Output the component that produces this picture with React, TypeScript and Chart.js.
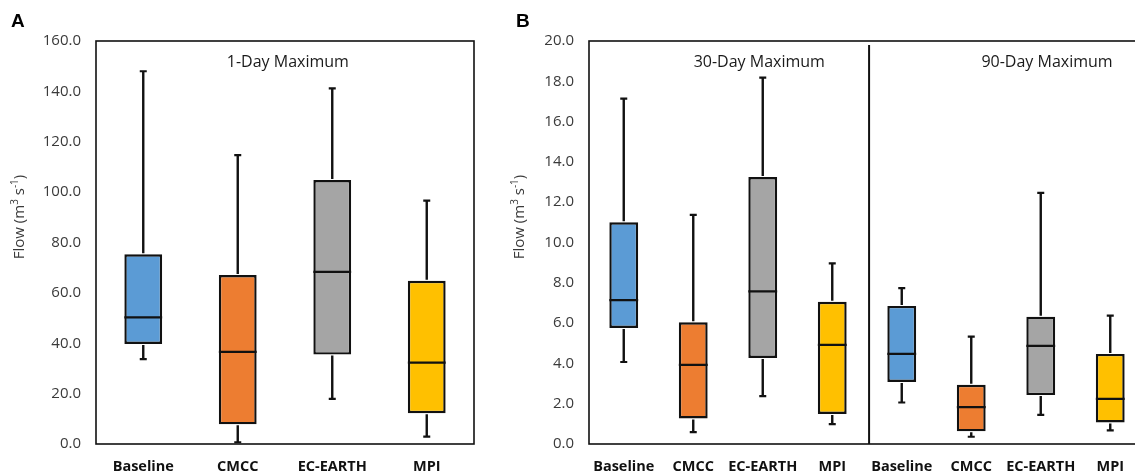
import React, { useEffect, useRef } from 'react';
import { Chart, registerables } from 'chart.js';
Chart.register(...registerables);

// ---------- data ----------
const categories = ['Baseline', 'CMCC', 'EC-EARTH', 'MPI'];
const boxColors = ['#5B9BD5', '#ED7D31', '#A5A5A5', '#FFC000'];

// Panel A: 1-Day Maximum
const day1Min = [33.7, 0.7, 17.9, 2.9];
const day1Q1 = [39.7, 7.8, 35.5, 12.2];
const day1Median = [50.3, 36.6, 68.3, 32.3];
const day1Q3 = [75.3, 67.1, 104.8, 64.8];
const day1Max = [148.0, 114.7, 141.2, 96.6];

// Panel B: 30-Day Maximum
const day30Min = [4.07, 0.59, 2.38, 0.99];
const day30Q1 = [5.76, 1.27, 4.27, 1.49];
const day30Median = [7.14, 3.93, 7.57, 4.92];
const day30Q3 = [11.0, 6.04, 13.25, 7.06];
const day30Max = [17.14, 11.37, 18.18, 8.96];

// Panel B: 90-Day Maximum
const day90Min = [2.06, 0.36, 1.45, 0.68];
const day90Q1 = [3.08, 0.63, 2.43, 1.07];
const day90Median = [4.47, 1.83, 4.87, 2.24];
const day90Q3 = [6.85, 2.94, 6.32, 4.47];
const day90Max = [7.74, 5.33, 12.46, 6.37];

const yTicksA = { min: 0, max: 160, step: 20 };
const yTicksB = { min: 0, max: 20, step: 2 };

const FONT = "'Open Sans', 'DejaVu Sans', sans-serif";
const TEXT = '#3a3a3a';
const LINE = '#111111';

type Stats = { min: number[]; q1: number[]; med: number[]; q3: number[]; max: number[] };

function drawYTitle(ctx: CanvasRenderingContext2D, x: number, y: number) {
  ctx.save();
  ctx.translate(x, y);
  ctx.rotate(-Math.PI / 2);
  ctx.fillStyle = TEXT;
  ctx.textBaseline = 'middle';
  const segs: [string, boolean][] = [
    ['Flow (m', false],
    ['3', true],
    [' s', false],
    ['-1', true],
    [')', false],
  ];
  const big = `15px ${FONT}`;
  const small = `10px ${FONT}`;
  let total = 0;
  for (const [t, sup] of segs) {
    ctx.font = sup ? small : big;
    total += ctx.measureText(t).width;
  }
  let cx = -total / 2;
  ctx.textAlign = 'left';
  for (const [t, sup] of segs) {
    ctx.font = sup ? small : big;
    ctx.fillText(t, cx, sup ? -5 : 0);
    cx += ctx.measureText(t).width;
  }
  ctx.restore();
}

function boxPlugin(
  stats: Stats,
  panelTitles: { text: string; at: number }[],
  letter: string,
  divider: boolean
) {
  return {
    id: 'boxExtras',
    afterDatasetsDraw(chart: any) {
      const ctx: CanvasRenderingContext2D = chart.ctx;
      const xs = chart.scales.x;
      const ys = chart.scales.y;
      const meta = chart.getDatasetMeta(0);
      ctx.save();
      ctx.strokeStyle = LINE;
      ctx.lineCap = 'butt';
      stats.med.forEach((_, i) => {
        const x = xs.getPixelForValue(i);
        const w = meta.data[i].width;
        const yMin = ys.getPixelForValue(stats.min[i]);
        const yQ1 = ys.getPixelForValue(stats.q1[i]);
        const yMed = ys.getPixelForValue(stats.med[i]);
        const yQ3 = ys.getPixelForValue(stats.q3[i]);
        const yMax = ys.getPixelForValue(stats.max[i]);
        ctx.lineWidth = 2.4;
        ctx.beginPath();
        ctx.moveTo(x, yQ3 - 1);
        ctx.lineTo(x, yMax);
        ctx.moveTo(x, yQ1 + 1);
        ctx.lineTo(x, yMin);
        ctx.stroke();
        ctx.lineWidth = 2.2;
        ctx.beginPath();
        ctx.moveTo(x - 3.5, yMax);
        ctx.lineTo(x + 3.5, yMax);
        ctx.moveTo(x - 3.5, yMin);
        ctx.lineTo(x + 3.5, yMin);
        ctx.moveTo(x - w / 2, yMed);
        ctx.lineTo(x + w / 2, yMed);
        ctx.stroke();
      });
      ctx.restore();
    },
    afterDraw(chart: any) {
      const ctx: CanvasRenderingContext2D = chart.ctx;
      const a = chart.chartArea;
      const xs = chart.scales.x;
      ctx.save();
      ctx.strokeStyle = LINE;
      ctx.lineWidth = 1.6;
      ctx.strokeRect(a.left, a.top, a.right - a.left, a.bottom - a.top);
      if (divider) {
        const dx = xs.getPixelForValue(3.53);
        ctx.lineWidth = 2;
        ctx.beginPath();
        ctx.moveTo(dx, a.top + 4);
        ctx.lineTo(dx, a.bottom);
        ctx.stroke();
      }
      ctx.fillStyle = '#1a1a1a';
      ctx.font = `16px ${FONT}`;
      ctx.textAlign = 'center';
      ctx.textBaseline = 'middle';
      panelTitles.forEach((t) => {
        ctx.fillText(t.text, xs.getPixelForValue(t.at), a.top + 21);
      });
      ctx.font = `bold 19px 'Liberation Sans', Arial, sans-serif`;
      ctx.fillStyle = '#000';
      ctx.textAlign = 'left';
      ctx.textBaseline = 'alphabetic';
      ctx.fillText(letter, letter === 'A' ? 11 : 16, 27);
      ctx.restore();
      drawYTitle(ctx, 20, 217);
    },
  };
}

function makeConfig(
  labels: string[],
  stats: Stats,
  colors: string[],
  yt: { min: number; max: number; step: number },
  yWidth: number,
  padRight: number,
  barPct: number,
  plugin: any
) {
  return {
    type: 'bar' as const,
    data: {
      labels,
      datasets: [
        {
          data: stats.q1.map((v, i) => [v, stats.q3[i]]),
          backgroundColor: colors,
          borderColor: LINE,
          borderWidth: 2.4,
          borderSkipped: false,
          barPercentage: barPct,
          categoryPercentage: 1,
        },
      ],
    },
    options: {
      animation: false,
      responsive: false,
      maintainAspectRatio: false,
      layout: { padding: { left: 0, top: 41, right: padRight, bottom: 0 } },
      plugins: { legend: { display: false }, tooltip: { enabled: false }, title: { display: false } },
      scales: {
        x: {
          grid: { display: false, drawTicks: false },
          border: { display: false },
          ticks: {
            color: '#111',
            font: { family: FONT, size: 14.5, weight: 'bold' },
            padding: 14,
            maxRotation: 0,
            autoSkip: false,
          },
          afterFit: (s: any) => {
            s.height = 30;
          },
        },
        y: {
          min: yt.min,
          max: yt.max,
          grid: { display: false, drawTicks: false },
          border: { display: false },
          ticks: {
            stepSize: yt.step,
            color: TEXT,
            font: { family: FONT, size: 15 },
            padding: 15,
            callback: (v: any) => Number(v).toFixed(1),
          },
          afterFit: (s: any) => {
            s.width = yWidth;
          },
        },
      },
    },
    plugins: [plugin],
  };
}

function Panel({ cfg, left, width }: { cfg: any; left: number; width: number }) {
  const ref = useRef<HTMLCanvasElement | null>(null);
  useEffect(() => {
    if (!ref.current) return;
    const chart = new Chart(ref.current, cfg);
    return () => chart.destroy();
  }, []);
  return (
    <canvas
      ref={ref}
      width={width}
      height={474}
      style={{ position: 'absolute', left, top: 0, width, height: 474 }}
    />
  );
}

export default function App() {
  const statsA: Stats = { min: day1Min, q1: day1Q1, med: day1Median, q3: day1Q3, max: day1Max };
  const statsB: Stats = {
    min: [...day30Min, ...day90Min],
    q1: [...day30Q1, ...day90Q1],
    med: [...day30Median, ...day90Median],
    q3: [...day30Q3, ...day90Q3],
    max: [...day30Max, ...day90Max],
  };
  const cfgA = makeConfig(
    categories,
    statsA,
    boxColors,
    yTicksA,
    96,
    26,
    0.4,
    boxPlugin(statsA, [{ text: '1-Day Maximum', at: 1.53 }], 'A', false)
  );
  const cfgB = makeConfig(
    [...categories, ...categories],
    statsB,
    [...boxColors, ...boxColors],
    yTicksB,
    89,
    15,
    0.415,
    boxPlugin(
      statsB,
      [
        { text: '30-Day Maximum', at: 1.95 },
        { text: '90-Day Maximum', at: 6.09 },
      ],
      'B',
      true
    )
  );
  return (
    <div
      style={{
        position: 'fixed',
        left: 0,
        top: 0,
        width: 1135,
        height: 474,
        overflow: 'hidden',
        background: '#fff',
      }}
    >
      <Panel cfg={cfgA} left={0} width={500} />
      <Panel cfg={cfgB} left={500} width={660} />
    </div>
  );
}
